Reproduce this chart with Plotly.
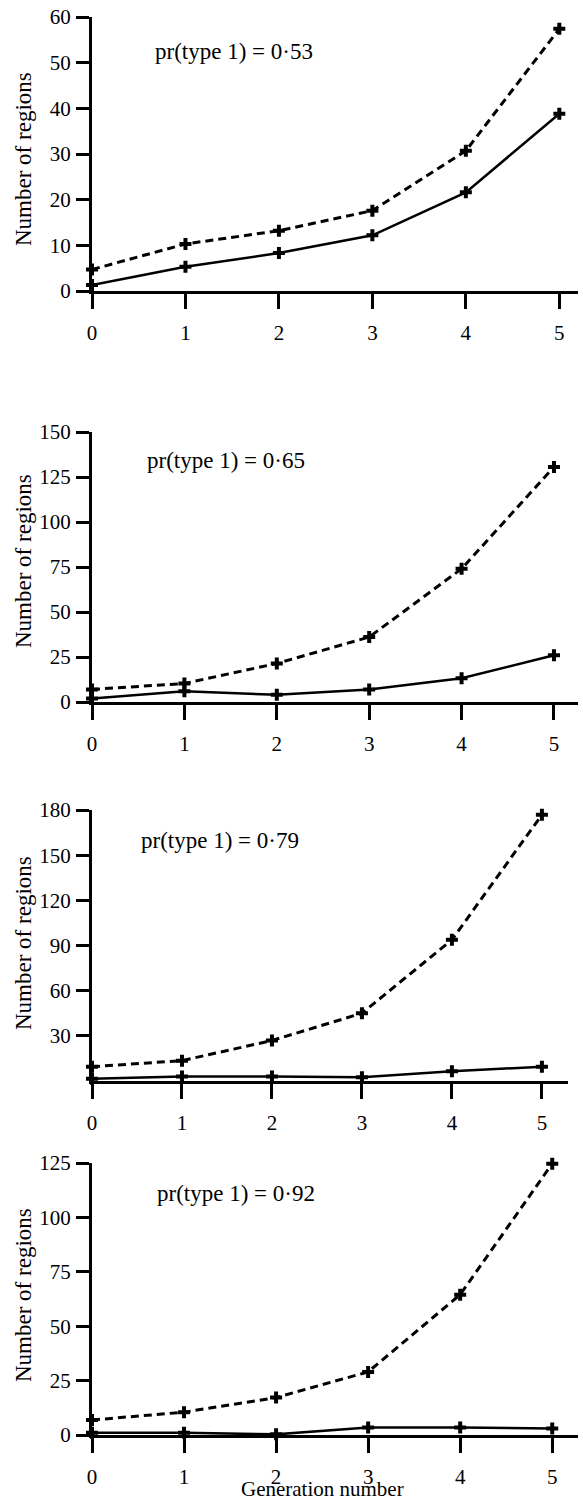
import plotly.graph_objects as go

# ---------------- data ----------------
generations = [0, 1, 2, 3, 4, 5]
x_tick_labels = ["0", "1", "2", "3", "4", "5"]

panel_labels = ["pr(type 1) = 0·53", "pr(type 1) = 0·65",
                "pr(type 1) = 0·79", "pr(type 1) = 0·92"]

dashed_053 = [4.7, 10.3, 13.2, 17.6, 30.7, 57.4]
solid_053 = [1.3, 5.3, 8.3, 12.2, 21.6, 38.8]

dashed_065 = [7.0, 10.3, 21.4, 36.1, 74.0, 130.6]
solid_065 = [2.0, 6.0, 4.0, 7.0, 13.2, 26.0]

dashed_079 = [9.5, 13.5, 26.9, 45.0, 93.8, 176.8]
solid_079 = [1.5, 3.0, 3.0, 2.5, 6.5, 9.5]

dashed_092 = [6.9, 10.5, 17.2, 29.0, 64.5, 124.7]
solid_092 = [1.0, 1.0, 0.3, 3.5, 3.5, 3.0]

y_ticks_053 = [0, 10, 20, 30, 40, 50, 60]
y_ticks_065 = [0, 25, 50, 75, 100, 125, 150]
y_ticks_079 = [30, 60, 90, 120, 150, 180]
y_ticks_092 = [0, 25, 50, 75, 100, 125]

y_title = "Number of regions"
x_title = "Generation number"

# ---------------- layout geometry (pixels) ----------------
W, H = 583, 1503
FONT = "Liberation Serif"

panels = [
    dict(dashed=dashed_053, solid=solid_053, yt=y_ticks_053, ymax=60,
         top=17, bottom=291, x1=578, xr=5.20, lab=(153, 51), ytit=159),
    dict(dashed=dashed_065, solid=solid_065, yt=y_ticks_065, ymax=150,
         top=432, bottom=702, x1=578, xr=5.26, lab=(145, 460), ytit=561),
    dict(dashed=dashed_079, solid=solid_079, yt=y_ticks_079, ymax=180,
         top=810, bottom=1081, x1=568, xr=5.29, lab=(139, 840), ytit=943),
    dict(dashed=dashed_092, solid=solid_092, yt=y_ticks_092, ymax=125,
         top=1163, bottom=1435, x1=578, xr=5.28, lab=(155, 1193), ytit=1295),
]

X0 = 92


def px(x):
    return x / W


def py(y):
    return 1 - y / H


fig = go.Figure()
annotations = []
layout = {}

for i, p in enumerate(panels):
    n = "" if i == 0 else str(i + 1)
    xa, ya = "x" + n, "y" + n
    fig.add_trace(go.Scatter(
        x=generations, y=p["dashed"], xaxis=xa, yaxis=ya, mode="lines+markers",
        line=dict(color="black", width=3, dash="8px,5px"),
        marker=dict(symbol="cross", size=10, color="black"),
        cliponaxis=False, showlegend=False, hoverinfo="skip"))
    fig.add_trace(go.Scatter(
        x=generations, y=p["solid"], xaxis=xa, yaxis=ya, mode="lines+markers",
        line=dict(color="black", width=2.5),
        marker=dict(symbol="cross", size=10, color="black"),
        cliponaxis=False, showlegend=False, hoverinfo="skip"))

    layout["xaxis" + n] = dict(
        domain=[px(X0), px(p["x1"])], range=[0, p["xr"]], anchor=ya,
        tickmode="array", tickvals=generations, ticktext=x_tick_labels,
        ticks="outside", ticklen=15, tickwidth=3, tickcolor="black",
        showline=True, linewidth=3, linecolor="black",
        showgrid=False, zeroline=False, automargin=False,
        tickfont=dict(family=FONT, size=21, color="black"),
        ticklabelstandoff=6,
    )
    layout["yaxis" + n] = dict(
        domain=[py(p["bottom"]), py(p["top"])], range=[0, p["ymax"]], anchor=xa,
        tickmode="array", tickvals=p["yt"],
        ticks="outside", ticklen=13, tickwidth=3, tickcolor="black",
        showline=True, linewidth=3, linecolor="black",
        showgrid=False, zeroline=False, automargin=False,
        tickfont=dict(family=FONT, size=21, color="black"),
        ticklabelstandoff=1,
    )
    annotations.append(dict(
        text=panel_labels[i], xref="paper", yref="paper",
        x=px(p["lab"][0]), y=py(p["lab"][1]), xanchor="left", yanchor="middle",
        showarrow=False, font=dict(family=FONT, size=23, color="black")))
    annotations.append(dict(
        text=y_title, xref="paper", yref="paper", textangle=-90,
        x=px(23), y=py(p["ytit"]), xanchor="center", yanchor="middle",
        showarrow=False, font=dict(family=FONT, size=23, color="black")))

annotations.append(dict(
    text=x_title, xref="paper", yref="paper",
    x=px(322), y=py(1489), xanchor="center", yanchor="middle",
    showarrow=False, font=dict(family=FONT, size=21, color="black")))

fig.update_layout(
    width=W, height=H,
    margin=dict(l=0, r=0, t=0, b=0, autoexpand=False),
    paper_bgcolor="white", plot_bgcolor="white",
    hovermode=False,
    annotations=annotations,
    **layout,
)

fig.write_html(
    "out.html",
    config={"displayModeBar": False, "staticPlot": True},
    post_script="document.body.style.margin='0';document.body.style.overflow='hidden';",
)
